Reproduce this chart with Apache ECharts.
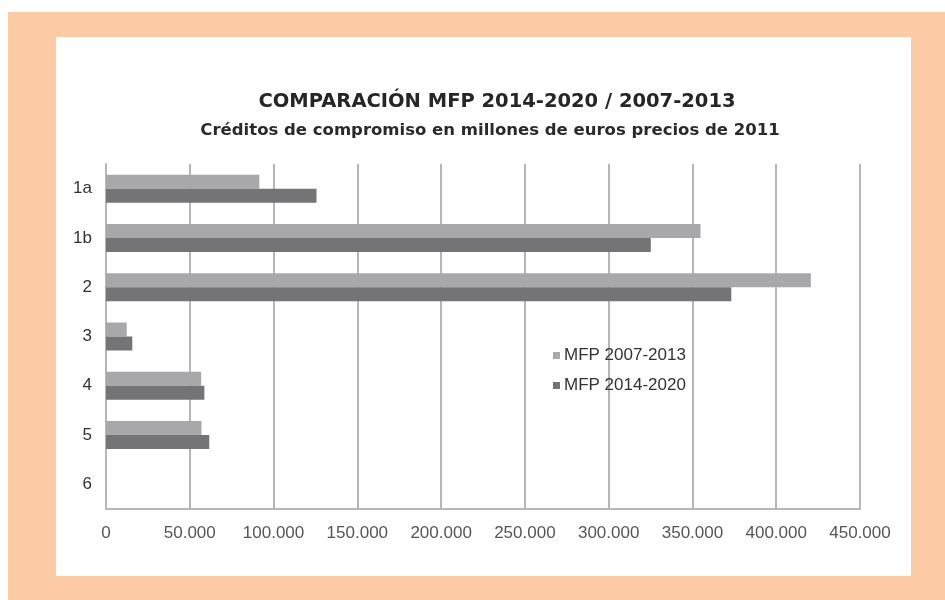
<!DOCTYPE html>
<html>
<head>
<meta charset="utf-8">
<script src="https://cdn.jsdelivr.net/npm/echarts@6/dist/echarts.min.js"></script>
<style>
  body { margin: 0; background: #ffffff; }
  #frame { position: absolute; left: 8px; top: 12px; width: 937px; height: 588px; background: #fdcca6; }
  #panel { position: absolute; left: 56px; top: 37px; width: 855px; height: 539px; background: #ffffff; }
  #chart { position: absolute; left: 0; top: 0; width: 945px; height: 600px; }
</style>
</head>
<body>
<div id="frame"></div>
<div id="panel"></div>
<div id="chart"></div>
<script>
  // headings of the budget
  const categories = ['1a', '1b', '2', '3', '4', '5', '6']
  // commitment appropriations, million euros at 2011 prices
  const mfp2007 = [91495, 354815, 420682, 12366, 56815, 56993, 0]
  const mfp2014 = [125614, 325149, 373179, 15686, 58704, 61629, 27]
  const xTicks = [0, 50000, 100000, 150000, 200000, 250000, 300000, 350000, 400000, 450000]

  const gridColor = '#b6b6ba'
  const textColor = '#333333'

  function fmt (v) {
    return String(v).replace(/\B(?=(\d{3})+(?!\d))/g, '.')
  }

  let myChart = echarts.init(document.getElementById('chart'))
  const option = {
    animation: false,
    title: [
      {
        text: 'COMPARACIÓN MFP 2014-2020 / 2007-2013',
        left: 492,
        top: 87,
        textAlign: 'center',
        textStyle: {
          fontFamily: 'DejaVu Sans',
          fontWeight: 'bold',
          fontSize: 19.5,
          color: '#262626'
        }
      },
      {
        text: 'Créditos de compromiso en millones de euros precios de 2011',
        left: 485,
        top: 117,
        textAlign: 'center',
        textStyle: {
          fontFamily: 'DejaVu Sans',
          fontWeight: 'bold',
          fontSize: 16.5,
          color: '#2a2a2a'
        }
      }
    ],
    legend: {
      orient: 'vertical',
      left: 548,
      top: 342,
      itemWidth: 7,
      itemHeight: 7,
      itemGap: 13,
      icon: 'rect',
      data: ['MFP 2007-2013', 'MFP 2014-2020'],
      textStyle: {
        fontFamily: 'Liberation Sans',
        fontSize: 17,
        color: textColor,
        padding: [0, 0, 0, -1]
      }
    },
    grid: {
      left: 106,
      right: 85,
      top: 164,
      bottom: 91
    },
    xAxis: {
      type: 'value',
      min: xTicks[0],
      max: xTicks[xTicks.length - 1],
      interval: xTicks[1] - xTicks[0],
      axisLine: {
        show: true,
        lineStyle: { color: gridColor, width: 2 }
      },
      axisTick: { show: false },
      axisLabel: {
        margin: 16,
        fontFamily: 'Liberation Sans',
        fontSize: 17,
        color: '#555555',
        formatter: fmt
      },
      splitLine: {
        show: true,
        lineStyle: { color: gridColor, width: 2 }
      }
    },
    yAxis: {
      type: 'category',
      inverse: true,
      data: categories,
      axisLine: {
        show: true,
        lineStyle: { color: gridColor, width: 2 }
      },
      axisTick: { show: false },
      axisLabel: {
        margin: 14,
        fontFamily: 'Liberation Sans',
        fontSize: 17,
        color: textColor
      }
    },
    series: [
      {
        name: 'MFP 2007-2013',
        type: 'bar',
        barWidth: 14,
        barGap: '0%',
        itemStyle: { color: '#a8a8aa' },
        data: mfp2007
      },
      {
        name: 'MFP 2014-2020',
        type: 'bar',
        barWidth: 14,
        barGap: '0%',
        itemStyle: { color: '#747476' },
        data: mfp2014
      }
    ]
  }
  myChart.setOption(option)
</script>
</body>
</html>
